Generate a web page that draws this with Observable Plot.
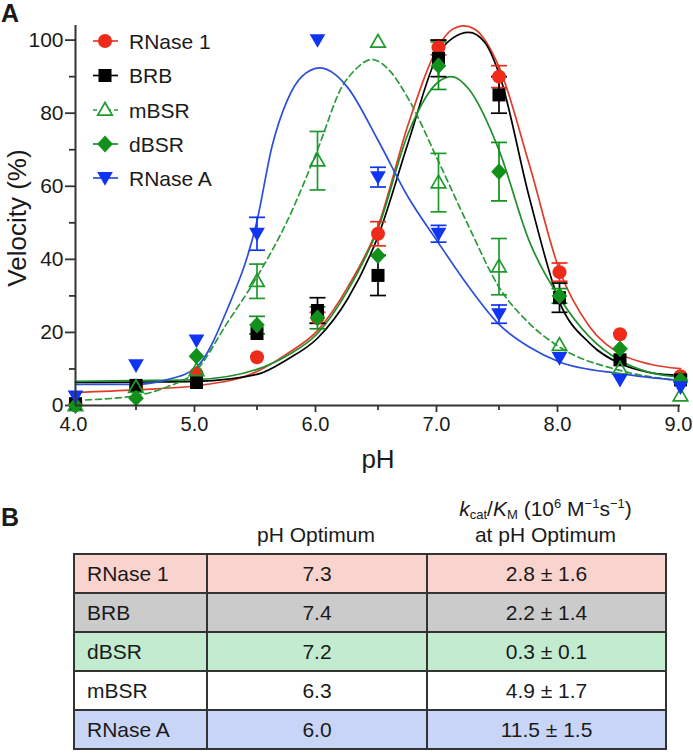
<!DOCTYPE html>
<html><head><meta charset="utf-8">
<script src="https://cdn.jsdelivr.net/npm/d3@7"></script>
<script src="https://cdn.jsdelivr.net/npm/@observablehq/plot@0.6"></script>
<style>
body{margin:0;background:#fff;font-family:"Liberation Sans",Arial,sans-serif;color:#1a1a1a;}
#wrap{position:relative;width:693px;height:754px;overflow:hidden;background:#fff;}
#chart{position:absolute;left:0;top:0;}
#overlay{position:absolute;left:0;top:0;pointer-events:none;}
.hdr{position:absolute;font-size:21px;line-height:23px;text-align:center;color:#1a1a1a;}
.hdr sub,.hdr sup{font-size:13px;line-height:0;vertical-align:0;position:relative;}
.hdr sub{top:3px;} .hdr sup{top:-8px;}
table{position:absolute;left:73px;top:553px;border-collapse:collapse;width:592px;font-size:21px;color:#1a1a1a;table-layout:fixed;}
td{border:2px solid #333;height:37px;padding:0;text-align:center;}
td.name{text-align:left;padding-left:12px;}
</style></head>
<body>
<div id="wrap">
  <div id="chart"></div>
  <svg id="overlay" width="693" height="754"></svg>
  <div class="hdr" style="left:206px;top:523px;width:220px;">pH Optimum</div>
  <div class="hdr" style="left:426px;top:497px;width:239px;"><i>k</i><sub>cat</sub>/<i>K</i><sub>M</sub> (10<sup>6</sup> M<sup>−1</sup>s<sup>−1</sup>)</div>
  <div class="hdr" style="left:426px;top:523px;width:239px;">at pH Optimum</div>
  <table id="tbl"></table>
</div>
<script>
// ---------- data ----------
const pH = [4.0, 4.5, 5.0, 5.5, 6.0, 6.5, 7.0, 7.5, 8.0, 8.5, 9.0];

const rnase1    = [0.5, 5.0, 8.7, 13.2, 24.0, 47.0, 98.0, 90.0, 36.5, 19.5, 8.0];
const rnase1Err = [0, 0, 0, 0, 1.5, 3.3, 2.0, 3.0, 2.5, 0, 0];
const brb       = [0.5, 5.5, 6.3, 19.7, 26.0, 35.6, 95.0, 85.0, 29.5, 12.5, 7.0];
const brbErr    = [0, 0, 0, 0, 3.5, 5.5, 5.0, 5.0, 4.0, 0, 0];
const mbsr      = [0.0, 5.0, 9.6, 34.0, 67.0, 99.5, 61.0, 38.0, 16.5, 10.0, 2.7];
const mbsrErr   = [0, 0, 0, 4.7, 8.0, 0, 8.0, 7.7, 0, 0, 0];
const dbsr      = [0.0, 2.0, 13.5, 22.0, 24.0, 41.0, 93.0, 64.0, 30.0, 15.5, 7.0];
const dbsrErr   = [0, 0, 0, 2.4, 3.0, 0, 6.5, 8.0, 2.0, 0, 0];
const rnaseA    = [2.5, 11.0, 17.8, 47.0, 100.0, 62.5, 47.0, 25.0, 13.0, 7.0, 5.0];
const rnaseAErr = [0, 0, 0, 4.5, 0, 2.7, 2.3, 2.5, 0, 0, 0];

// fitted curves
const rnase1FitPH = [4.0, 4.5, 5.0, 5.5, 5.75, 6.0, 6.25, 6.5, 6.75, 7.0, 7.1, 7.21, 7.3, 7.5, 7.75, 8.0, 8.25, 8.5, 8.75, 9.0];
const rnase1Fit   = [3.6, 4.3, 5.4, 9.3, 14.2, 20.5, 32.4, 49.0, 77.0, 98.3, 102.6, 103.9, 103.0, 92.7, 66.0, 37.0, 21.5, 14.2, 11.3, 10.1];
const brbFitPH = [4.0, 4.5, 5.0, 5.5, 5.75, 6.0, 6.25, 6.5, 6.75, 7.0, 7.12, 7.25, 7.38, 7.5, 7.75, 8.0, 8.25, 8.5, 8.75, 9.0];
const brbFit   = [6.3, 6.4, 6.6, 8.5, 12.6, 18.4, 29.2, 46.3, 72.0, 96.3, 100.6, 102.1, 99.5, 90.9, 57.0, 28.3, 17.0, 11.5, 9.0, 8.2];
const dbsrFitPH = [4.0, 4.5, 5.0, 5.5, 5.75, 6.0, 6.25, 6.5, 6.75, 7.0, 7.11, 7.25, 7.5, 7.75, 8.0, 8.25, 8.5, 8.75, 9.0];
const dbsrFit   = [6.6, 6.8, 7.1, 9.9, 13.7, 19.7, 31.5, 48.4, 74.5, 88.6, 90.0, 86.6, 69.9, 45.0, 29.5, 18.7, 12.3, 9.0, 7.8];
const mbsrFitPH = [4.0, 4.5, 4.75, 5.0, 5.25, 5.5, 5.75, 6.0, 6.21, 6.3, 6.45, 6.6, 6.75, 7.0, 7.25, 7.5, 7.75, 8.0, 8.5, 9.0];
const mbsrFit   = [1.4, 2.7, 5.0, 9.6, 22.4, 35.2, 50.5, 70.0, 87.7, 91.5, 94.7, 91.5, 84.0, 66.8, 49.0, 32.4, 22.5, 16.0, 9.6, 6.8];
const rnaseAFitPH = [4.0, 4.5, 4.75, 5.0, 5.25, 5.5, 5.625, 5.75, 5.87, 6.02, 6.15, 6.25, 6.5, 6.75, 7.0, 7.25, 7.5, 7.75, 8.0, 8.5, 9.0];
const rnaseAFit   = [5.8, 5.8, 7.0, 10.5, 26.0, 50.5, 71.0, 83.5, 90.0, 92.4, 90.5, 87.0, 72.6, 57.0, 44.5, 32.5, 22.2, 16.0, 11.9, 8.7, 6.8];

const xTicks = [4, 5, 6, 7, 8, 9];
const xMinorTicks = [4.5, 5.5, 6.5, 7.5, 8.5];
const yTicks = [0, 20, 40, 60, 80, 100];
const yMinorTicks = [10, 30, 50, 70, 90];

// table
const tableNames = ["RNase 1", "BRB", "dBSR", "mBSR", "RNase A"];
const tableOptimum = ["7.3", "7.4", "7.2", "6.3", "6.0"];
const tableKcat = ["2.8 ± 1.6", "2.2 ± 1.4", "0.3 ± 0.1", "4.9 ± 1.7", "11.5 ± 1.5"];
const tableColors = ["#f9d3ce", "#cbcbcb", "#c2ebd0", "#ffffff", "#c9d5f6"];

// ---------- symbols ----------
const poly = pts => ({draw(ctx, size) {
  const s = Math.sqrt(size / Math.PI);
  ctx.moveTo(pts[0][0] * s, pts[0][1] * s);
  for (let i = 1; i < pts.length; ++i) ctx.lineTo(pts[i][0] * s, pts[i][1] * s);
  ctx.closePath();
}});
const symSquare = poly([[-0.93, -0.93], [0.93, -0.93], [0.93, 0.93], [-0.93, 0.93]]);
const symTriUp = poly([[0, -1.15], [1.12, 0.8], [-1.12, 0.8]]);
const symTriDown = poly([[0, 1.1], [1.12, -0.85], [-1.12, -0.85]]);
const symDiamond = poly([[0, -1.2], [1.12, 0], [0, 1.2], [-1.12, 0]]);
const symCap = {draw(ctx) { ctx.moveTo(-8, 0); ctx.lineTo(8, 0); }};

const series = [
  {name: "RNase 1", v: rnase1, e: rnase1Err, fx: rnase1FitPH, fy: rnase1Fit, color: "#ee2b1a", line: "#e23b28", symbol: d3.symbolCircle, r: 7, open: false, dash: null},
  {name: "BRB", v: brb, e: brbErr, fx: brbFitPH, fy: brbFit, color: "#000000", line: "#000000", symbol: symSquare, r: 7, open: false, dash: null},
  {name: "mBSR", v: mbsr, e: mbsrErr, fx: mbsrFitPH, fy: mbsrFit, color: "#1f9a2c", line: "#2a9a3a", symbol: symTriUp, r: 6.5, open: true, dash: "6,4"},
  {name: "dBSR", v: dbsr, e: dbsrErr, fx: dbsrFitPH, fy: dbsrFit, color: "#11901c", line: "#1f8f2b", symbol: symDiamond, r: 7, open: false, dash: null},
  {name: "RNase A", v: rnaseA, e: rnaseAErr, fx: rnaseAFitPH, fy: rnaseAFit, color: "#1035f2", line: "#2c4fd8", symbol: symTriDown, r: 7, open: false, dash: null}
];

// ---------- plot ----------
const lineMarks = series.map(s => Plot.line(s.fx.map((x, i) => ({x, y: s.fy[i]})), {
  x: "x", y: "y", stroke: s.line, strokeWidth: 1.7, strokeDasharray: s.dash, curve: "monotone-x"
}));
const errMarks = series.flatMap(s => {
  const d = pH.map((x, i) => ({x, y: s.v[i], e: s.e[i]})).filter(d => d.e > 0);
  return [
    Plot.ruleX(d, {x: "x", y1: d => d.y - d.e, y2: d => d.y + d.e, stroke: s.color, strokeWidth: 1.7}),
    Plot.dot(d, {x: "x", y: d => d.y + d.e, symbol: symCap, r: 3, fill: "none", stroke: s.color, strokeWidth: 1.7}),
    Plot.dot(d, {x: "x", y: d => d.y - d.e, symbol: symCap, r: 3, fill: "none", stroke: s.color, strokeWidth: 1.7})
  ];
});
const dotMarks = series.map(s => Plot.dot(pH.map((x, i) => ({x, y: s.v[i]})), {
  x: "x", y: "y", symbol: s.symbol, r: s.r,
  fill: s.open ? "none" : s.color, stroke: s.open ? s.color : "none", strokeWidth: 1.7
}));

const chart = Plot.plot({
  width: 693, height: 480,
  marginLeft: 75, marginRight: 13, marginTop: 25, marginBottom: 75,
  style: {fontFamily: '"Liberation Sans", Arial, sans-serif', fontSize: "21px", color: "#1a1a1a", background: "white", overflow: "visible"},
  x: {domain: [4, 9]},
  y: {domain: [0, 104]},
  marks: [
    Plot.axisX(xTicks, {tickSize: 7, tickPadding: 4, tickFormat: d3.format(".1f"), label: null, strokeWidth: 1.8, stroke: "#333", fontSize: 20, dx: -2}),
    Plot.axisX(xMinorTicks, {tickSize: 5, tickFormat: () => "", label: null, strokeWidth: 1.8, stroke: "#333"}),
    Plot.axisY(yTicks, {tickSize: 10, tickPadding: 2, label: null, strokeWidth: 1.8, stroke: "#333"}),
    Plot.axisY(yMinorTicks, {tickSize: 6, tickFormat: () => "", label: null, strokeWidth: 1.8, stroke: "#333"}),
    ...lineMarks,
    ...errMarks,
    ...dotMarks,
    Plot.ruleX([4], {stroke: "#333", strokeWidth: 2}),
    Plot.ruleY([0], {stroke: "#333", strokeWidth: 2})
  ]
});
document.getElementById("chart").appendChild(chart);

// ---------- overlay texts & legend ----------
const ov = d3.select("#overlay").style("font-family", '"Liberation Sans", Arial, sans-serif').attr("fill", "#1a1a1a");
ov.append("text").attr("x", 1).attr("y", 22).attr("font-size", 25).attr("font-weight", "bold").text("A");
ov.append("text").attr("x", 1).attr("y", 526).attr("font-size", 25).attr("font-weight", "bold").text("B");
ov.append("text").attr("transform", "translate(26,218) rotate(-90)").attr("text-anchor", "middle").attr("font-size", 26).text("Velocity (%)");
ov.append("text").attr("x", 378).attr("y", 468).attr("text-anchor", "middle").attr("font-size", 26).text("pH");

const legendRowY = [41, 75.5, 110, 144, 178];
series.forEach((s, i) => {
  const g = ov.append("g").attr("transform", `translate(105,${legendRowY[i]})`);
  g.append("line").attr("x1", -12).attr("x2", 13).attr("stroke", s.line).attr("stroke-width", 1.7).attr("stroke-dasharray", s.dash ? "4,3" : null);
  const p = d3.path();
  s.symbol.draw(p, Math.PI * s.r * s.r);
  g.append("path").attr("d", p.toString()).attr("fill", s.open ? "white" : s.color).attr("stroke", s.open ? s.color : "none").attr("stroke-width", 1.7);
  ov.append("text").attr("x", 129).attr("y", legendRowY[i]).attr("dy", "0.36em").attr("font-size", 21).text(s.name);
});

// ---------- table ----------
const tbl = d3.select("#tbl");
tbl.append("colgroup").selectAll("col").data([133, 220, 239]).join("col").style("width", d => d + "px");
tableNames.forEach((n, i) => {
  const tr = tbl.append("tr").style("background", tableColors[i]);
  tr.append("td").attr("class", "name").text(n);
  tr.append("td").text(tableOptimum[i]);
  tr.append("td").text(tableKcat[i]);
});
</script>
</body></html>
